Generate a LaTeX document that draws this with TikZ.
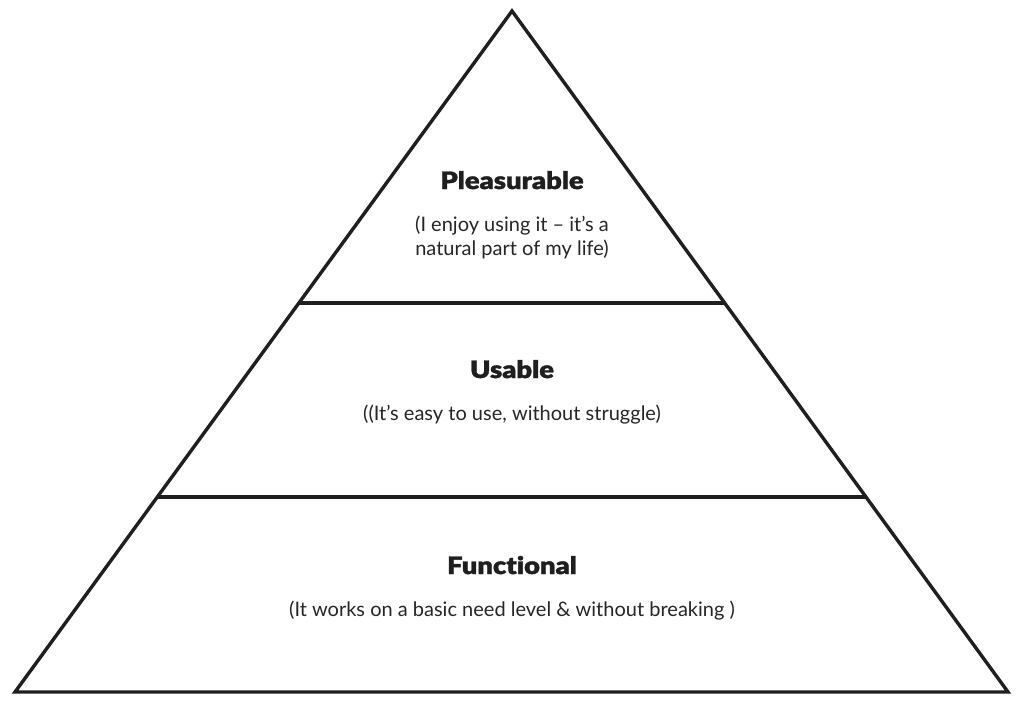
\documentclass[tikz,border=0pt]{standalone}
\usepackage{fontspec}
\setmainfont{Lato}[RawFeature={-liga}]
\newfontfamily\latoblack{Lato Black}[RawFeature={-liga}, FakeStretch=1.14, FakeBold=1.4]
\usetikzlibrary{calc}

\begin{document}
\begin{tikzpicture}[x=1pt, y=-1pt,
		edge/.style={line width=3.4pt, color=black!88, line join=miter},
		heading/.style={anchor=base, inner sep=0pt, color=black!88, font=\latoblack\fontsize{24}{28}\selectfont},
		remark/.style={anchor=base, inner sep=0pt, color=black!85, align=center, font=\fontsize{20}{23.5}\selectfont}]
			%%%%% START %%%%%
			
			\useasboundingbox (0, 0) rectangle (1024, 725);
			
			\coordinate (apex) at (512, 11);
			\coordinate (baseL) at (15, 692);
			\coordinate (baseR) at (1008, 692);
			
			\draw[edge] (apex) -- (baseL) -- (baseR) -- cycle;
			
			\draw[edge] ($(apex)!0.4288!(baseL)$) -- ($(apex)!0.4288!(baseR)$);
			\draw[edge] ($(apex)!0.7137!(baseL)$) -- ($(apex)!0.7137!(baseR)$);
			
			\node[heading] (pleasurable) at (512, 189) {Pleasurable};
			\node[remark] (pleasurableNote) at (512, 255) {(I enjoy using it -- it’s a\\natural part of my life)};
			
			\node[heading] (usable) at (512, 378) {Usable};
			\node[remark] (usableNote) at (512, 420) {((It’s easy to use, without struggle)};
			
			\node[heading] (functional) at (512, 574) {Functional};
			\node[remark] (functionalNote) at (512, 616) {(It works on a basic need level \& without breaking )};
			
			%%%%% END %%%%%
		\end{tikzpicture}
\end{document}
